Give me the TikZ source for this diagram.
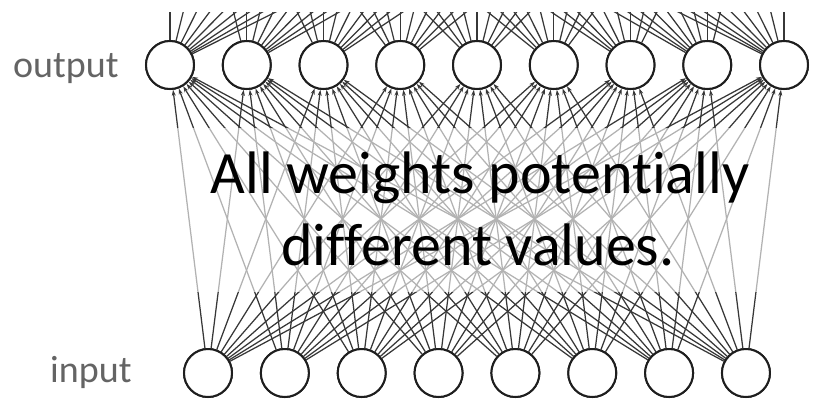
\documentclass[tikz,border=0pt]{standalone}
\usepackage{fontspec}
\setmainfont{Carlito}[Ligatures={NoCommon}]
\usetikzlibrary{arrows.meta}
\definecolor{linegrey}{RGB}{55,55,55}
\definecolor{labelgrey}{RGB}{100,100,100}
\definecolor{ringcol}{RGB}{30,30,30}
\tikzset{
  neuron/.style={circle,draw=ringcol,fill=white,line width=2pt,minimum size=48pt,inner sep=0pt},
  conn/.style={draw=linegrey,line width=1.25pt,-{Stealth[length=6pt,width=4pt]}},
  layerlabel/.style={text=labelgrey,font=\fontsize{38}{44}\selectfont,anchor=base west,inner sep=0pt},
  bigtext/.style={text=black,font=\fontsize{60}{72}\selectfont,anchor=base,inner sep=0pt}
}
\begin{document}
\begin{tikzpicture}[x=1pt,y=-1pt]
\useasboundingbox (0,0) rectangle (813,400);
% nodes
\foreach \k in {0,...,8} {
  \pgfmathsetmacro{\xo}{170+76.75*\k}
  \node[neuron] (o\k) at (\xo,65) {};
  \coordinate (u\k) at (\xo,-243);
}
\foreach \j in {0,...,7} {
  \pgfmathsetmacro{\xi}{208+76.85*\j}
  \node[neuron] (i\j) at (\xi,373) {};
}
% connections input -> output
\foreach \j in {0,...,7} {
  \foreach \k in {0,...,8} {
    \draw[conn] (i\j) -- (o\k);
  }
}
% connections output -> layer above (cut off)
\begin{scope}
\clip (0,12) rectangle (813,400);
\foreach \k in {0,...,8} {
  \foreach \m in {0,...,8} {
    \draw[conn] (o\k) -- (u\m);
  }
}
\end{scope}
% translucent text box
\fill[white,opacity=0.62] (0,128) rectangle (813,292);
% redraw circles on top
\foreach \k in {0,...,8} {
  \pgfmathsetmacro{\xo}{170+76.75*\k}
  \node[neuron] at (\xo,65) {};
}
\foreach \j in {0,...,7} {
  \pgfmathsetmacro{\xi}{208+76.85*\j}
  \node[neuron] at (\xi,373) {};
}
% labels
\node[layerlabel] (outlabel) at (13,77) {output};
\node[layerlabel] (inlabel) at (50,382) {input};
\node[bigtext] (line1) at (480,193) {All weights potentially};
\node[bigtext] (line2) at (478,265) {different values.};
\end{tikzpicture}
\end{document}
